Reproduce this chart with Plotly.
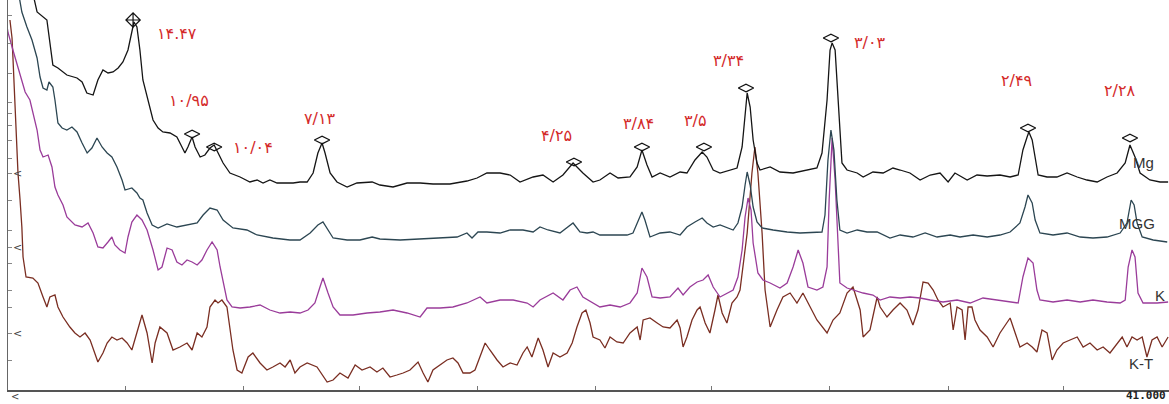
import plotly.graph_objects as go

# ---- Data (2-theta in degrees, intensity in arbitrary units, traces offset) ----
mg_2theta = [2.58, 2.82, 3.15, 3.35, 3.52, 3.82, 4.16, 4.33, 4.49, 4.70, 4.86, 5.03, 5.20, 5.37, 5.54, 5.70, 5.87, 6.00, 6.07, 6.17,
             6.27, 6.37, 6.54, 6.71, 6.88, 7.04, 7.28, 7.51, 7.68, 7.78, 7.88, 8.02, 8.12, 8.29, 8.45, 8.62, 8.76, 8.89, 9.06, 9.29,
             9.63, 9.96, 10.20, 10.40, 10.63, 10.87, 11.07, 11.41, 11.64, 11.88, 12.08, 12.24, 12.38, 12.48, 12.65, 12.88, 13.22, 13.55, 14.06, 14.32,
             14.76, 15.23, 15.67, 16.10, 16.67, 17.24, 17.58, 17.91, 18.35, 18.69, 19.02, 19.46, 19.79, 20.13, 20.46, 20.80, 21.13, 21.47, 21.70, 22.04,
             22.31, 22.71, 22.95, 23.11, 23.28, 23.45, 23.72, 24.05, 24.39, 24.62, 24.89, 25.13, 25.29, 25.50, 25.73, 26.07, 26.30, 26.47, 26.57, 26.64,
             26.74, 26.84, 26.97, 27.07, 27.41, 27.74, 28.18, 28.65, 28.98, 29.15, 29.32, 29.42, 29.49, 29.59, 29.69, 29.82, 29.99, 30.33, 30.53, 30.86,
             31.20, 31.53, 31.77, 32.10, 32.44, 32.78, 33.11, 33.38, 33.61, 34.02, 34.35, 34.69, 35.12, 35.46, 35.73, 35.89, 36.03, 36.09, 36.20, 36.30,
             36.40, 36.70, 37.03, 37.37, 37.71, 38.04, 38.38, 38.71, 39.05, 39.32, 39.48, 39.65, 39.82, 40.15, 40.49, 40.76]
mg_counts = [410, 378, 370, 325, 322, 315, 312, 308, 297, 295, 310, 320, 317, 318, 322, 328, 340, 357, 368, 363,
             340, 310, 290, 270, 262, 258, 257, 253, 243, 237, 243, 253, 243, 233, 235, 242, 245, 237, 227, 217,
             213, 208, 210, 207, 210, 207, 207, 207, 208, 208, 217, 237, 247, 237, 217, 208, 203, 207, 208, 205,
             203, 207, 207, 206, 206, 209, 212, 217, 217, 215, 208, 213, 215, 208, 215, 227, 217, 208, 210, 217,
             212, 213, 223, 240, 225, 213, 217, 213, 218, 217, 230, 238, 233, 220, 217, 220, 222, 243, 280, 297,
             283, 250, 227, 220, 223, 218, 217, 220, 222, 237, 290, 340, 347, 340, 290, 227, 220, 217, 213, 218,
             217, 222, 220, 217, 210, 215, 217, 208, 217, 210, 215, 214, 215, 213, 215, 240, 253, 258, 250, 233,
             215, 213, 213, 217, 213, 210, 208, 213, 217, 227, 245, 233, 217, 210, 208, 208]

mgg_2theta = [2.18, 2.31, 2.48, 2.65, 2.82, 2.92, 3.02, 3.15, 3.22, 3.35, 3.42, 3.52, 3.66, 3.82, 3.99, 4.16, 4.33, 4.50, 4.66, 4.83,
              5.00, 5.17, 5.33, 5.50, 5.67, 5.77, 6.00, 6.17, 6.27, 6.37, 6.51, 6.68, 6.88, 7.18, 7.51, 7.85, 8.19, 8.39, 8.62, 8.86,
              9.06, 9.39, 9.86, 10.20, 10.73, 11.30, 11.64, 11.98, 12.24, 12.41, 12.58, 12.75, 13.22, 13.65, 14.06, 14.32, 15.00, 15.67, 16.34, 16.91,
              17.24, 17.41, 17.61, 17.91, 18.35, 18.69, 19.12, 19.46, 19.69, 19.96, 20.36, 20.60, 20.80, 21.03, 21.27, 21.47, 21.70, 22.14, 22.61, 22.81,
              22.98, 23.11, 23.21, 23.38, 23.72, 24.05, 24.39, 24.62, 24.89, 25.13, 25.29, 25.50, 25.73, 25.96, 26.17, 26.33, 26.47, 26.57, 26.64, 26.74,
              26.84, 26.97, 27.14, 27.51, 27.98, 28.41, 28.85, 29.15, 29.25, 29.35, 29.45, 29.55, 29.65, 29.75, 29.99, 30.33, 30.66, 31.00, 31.43, 31.77,
              32.20, 32.61, 33.01, 33.45, 33.78, 34.22, 34.69, 35.12, 35.46, 35.79, 35.96, 36.06, 36.20, 36.30, 36.46, 36.90, 37.37, 37.81, 38.24, 38.71,
              39.15, 39.38, 39.52, 39.62, 39.72, 39.89, 40.26, 40.73]
mgg_counts = [400, 378, 363, 350, 332, 313, 302, 300, 308, 303, 290, 267, 262, 260, 263, 258, 247, 237, 242, 252,
              243, 237, 233, 223, 210, 200, 202, 197, 192, 190, 177, 165, 162, 166, 163, 165, 167, 175, 182, 180,
              170, 162, 160, 155, 152, 150, 150, 157, 165, 168, 160, 152, 150, 150, 153, 151, 150, 151, 152, 153,
              157, 152, 158, 158, 157, 160, 160, 158, 163, 160, 157, 162, 167, 158, 157, 158, 155, 155, 155, 157,
              170, 178, 170, 153, 157, 158, 155, 163, 168, 172, 167, 163, 165, 162, 160, 167, 183, 205, 218, 205,
              183, 168, 162, 160, 158, 157, 158, 158, 175, 230, 260, 240, 190, 160, 157, 160, 158, 158, 152, 155,
              153, 157, 153, 155, 153, 155, 153, 155, 158, 167, 183, 195, 187, 170, 157, 155, 157, 153, 152, 153,
              157, 167, 190, 185, 167, 153, 150, 148]

k_2theta = [1.71, 1.85, 2.01, 2.18, 2.31, 2.42, 2.58, 2.68, 2.82, 2.92, 3.02, 3.19, 3.32, 3.42, 3.52, 3.69, 3.82, 4.09, 4.33, 4.53,
            4.70, 4.86, 5.03, 5.20, 5.33, 5.43, 5.60, 5.77, 5.87, 6.00, 6.17, 6.34, 6.51, 6.71, 6.88, 7.01, 7.18, 7.35, 7.51, 7.68,
            7.85, 8.02, 8.19, 8.35, 8.52, 8.69, 8.86, 8.96, 9.06, 9.19, 9.36, 9.63, 9.96, 10.30, 10.63, 10.97, 11.31, 11.64, 11.91, 12.14,
            12.31, 12.41, 12.58, 12.75, 12.98, 13.42, 13.89, 14.32, 14.76, 15.23, 15.67, 15.90, 16.34, 16.77, 17.24, 17.44, 17.68, 17.91, 18.35, 18.79,
            19.26, 19.46, 19.69, 20.13, 20.46, 20.70, 20.93, 21.13, 21.47, 21.70, 22.04, 22.38, 22.71, 22.95, 23.11, 23.28, 23.45, 23.72, 24.05, 24.32,
            24.49, 24.72, 24.96, 25.16, 25.33, 25.50, 25.73, 25.96, 26.17, 26.33, 26.47, 26.57, 26.67, 26.77, 26.84, 27.00, 27.17, 27.41, 27.74, 27.98,
            28.18, 28.35, 28.51, 28.68, 28.98, 29.18, 29.32, 29.39, 29.49, 29.59, 29.69, 29.75, 29.99, 30.19, 30.53, 30.86, 31.10, 31.43, 31.77, 32.10,
            32.44, 32.78, 33.21, 33.68, 34.12, 34.55, 35.02, 35.46, 35.73, 35.89, 36.06, 36.23, 36.36, 36.46, 36.90, 37.37, 37.81, 38.24, 38.71, 39.15,
            39.32, 39.42, 39.55, 39.65, 39.75, 39.92, 40.39, 40.76]
k_counts = [380, 357, 340, 323, 310, 298, 290, 277, 260, 240, 233, 235, 223, 203, 195, 185, 173, 165, 163, 167,
            157, 143, 142, 148, 153, 145, 140, 137, 153, 168, 175, 170, 160, 140, 120, 123, 142, 140, 128, 125,
            130, 128, 125, 130, 140, 148, 140, 123, 107, 90, 83, 82, 83, 85, 80, 77, 78, 77, 80, 87,
            103, 112, 97, 83, 75, 75, 77, 78, 80, 77, 73, 82, 82, 83, 87, 90, 93, 87, 90, 90,
            87, 83, 90, 97, 90, 100, 103, 93, 87, 83, 85, 83, 87, 97, 122, 113, 93, 92, 93, 102,
            95, 103, 108, 110, 115, 103, 93, 97, 100, 113, 140, 173, 192, 180, 147, 117, 110, 107, 102, 107,
            123, 140, 127, 103, 100, 103, 123, 190, 252, 210, 140, 107, 102, 100, 97, 95, 90, 93, 92, 93,
            92, 90, 88, 90, 87, 92, 90, 88, 87, 113, 132, 127, 100, 90, 88, 90, 88, 90, 88, 87,
            90, 123, 140, 133, 97, 87, 87, 88]

kt_2theta = [1.91, 1.98, 2.01, 2.08, 2.15, 2.18, 2.25, 2.31, 2.35, 2.45, 2.68, 2.85, 3.02, 3.15, 3.25, 3.42, 3.52, 3.69, 3.92, 4.09,
             4.26, 4.43, 4.60, 4.76, 4.86, 5.03, 5.17, 5.33, 5.50, 5.67, 5.84, 6.00, 6.17, 6.34, 6.51, 6.68, 6.78, 6.94, 7.18, 7.38,
             7.61, 7.85, 8.02, 8.19, 8.35, 8.52, 8.62, 8.79, 8.89, 9.02, 9.19, 9.29, 9.39, 9.53, 9.69, 9.90, 10.06, 10.30, 10.53, 10.73,
             10.97, 11.14, 11.31, 11.47, 11.64, 11.88, 12.21, 12.55, 12.75, 12.98, 13.25, 13.49, 13.72, 13.99, 14.22, 14.42, 14.66, 14.89, 15.10, 15.33,
             15.60, 15.77, 15.93, 16.10, 16.34, 16.57, 16.77, 16.94, 17.11, 17.34, 17.51, 17.68, 17.85, 18.01, 18.25, 18.45, 18.69, 18.92, 19.12, 19.26,
             19.42, 19.63, 19.79, 19.96, 20.13, 20.36, 20.60, 20.77, 20.93, 21.10, 21.23, 21.37, 21.47, 21.70, 21.87, 22.04, 22.27, 22.48, 22.71, 22.95,
             23.05, 23.15, 23.38, 23.62, 23.82, 24.05, 24.29, 24.39, 24.49, 24.62, 24.79, 24.96, 25.06, 25.23, 25.39, 25.56, 25.66, 25.80, 25.96, 26.13,
             26.30, 26.40, 26.53, 26.64, 26.80, 26.90, 27.00, 27.14, 27.24, 27.41, 27.64, 27.84, 28.08, 28.31, 28.51, 28.75, 28.98, 29.32, 29.52, 29.75,
             29.99, 30.19, 30.43, 30.53, 30.76, 31.00, 31.10, 31.33, 31.53, 31.77, 32.00, 32.20, 32.37, 32.54, 32.71, 32.88, 33.04, 33.21, 33.45, 33.55,
             33.68, 33.85, 33.95, 34.05, 34.18, 34.28, 34.45, 34.69, 34.89, 35.12, 35.36, 35.46, 35.63, 35.79, 36.03, 36.20, 36.36, 36.53, 36.70, 36.87,
             37.03, 37.24, 37.47, 37.71, 37.91, 38.14, 38.38, 38.58, 38.81, 39.05, 39.22, 39.38, 39.55, 39.72, 39.89, 40.05, 40.22, 40.39, 40.56, 40.76]
kt_counts = [370, 352, 333, 290, 243, 217, 190, 163, 133, 113, 112, 107, 93, 83, 93, 95, 83, 73, 63, 57,
             53, 57, 50, 37, 28, 37, 47, 53, 50, 52, 47, 40, 58, 75, 57, 27, 47, 63, 57, 40,
             43, 47, 40, 57, 53, 63, 83, 90, 87, 90, 83, 63, 40, 20, 17, 33, 37, 27, 20, 23,
             27, 23, 30, 17, 23, 27, 23, 8, 10, 17, 12, 25, 20, 23, 18, 22, 13, 15, 17, 20,
             28, 17, 8, 20, 25, 30, 32, 27, 17, 17, 20, 33, 47, 40, 30, 23, 27, 25, 37, 43,
             33, 52, 40, 23, 37, 33, 37, 47, 63, 77, 80, 67, 53, 50, 42, 53, 48, 47, 57, 63,
             50, 70, 72, 67, 63, 62, 70, 62, 43, 53, 70, 80, 83, 67, 57, 80, 95, 77, 67, 87,
             93, 100, 130, 157, 217, 243, 217, 157, 100, 63, 80, 93, 97, 87, 97, 83, 70, 57, 70, 77,
             97, 103, 80, 53, 60, 93, 83, 73, 80, 87, 80, 65, 80, 108, 107, 100, 90, 83, 87, 60,
             83, 80, 50, 83, 83, 70, 60, 53, 43, 57, 67, 72, 57, 43, 47, 43, 38, 60, 57, 30,
             40, 47, 50, 53, 43, 47, 40, 43, 37, 47, 53, 43, 53, 50, 53, 33, 50, 53, 43, 53]

# Marked peaks on the Mg trace (diamond positions) and their d-spacing labels
peak_2theta = [6.04, 8.02, 8.76, 12.38, 20.83, 23.11, 25.19, 26.60, 29.45, 36.06, 39.48]
peak_counts = [370, 256, 243, 250, 228, 243, 243, 302, 352, 262, 252]

label_text = ["۱۴.۴۷", "۱۰/۹۵", "۱۰/۰۴", "۷/۱۳", "۴/۲۵", "۳/۸۴", "۳/۵", "۳/۳۴", "۳/۰۳", "۲/۴۹", "۲/۲۸"]
label_2theta = [7.51, 7.92, 10.06, 12.31, 20.26, 22.98, 24.89, 26.03, 30.76, 35.69, 39.15]
label_counts = [357, 290, 243, 272, 255, 267, 270, 330, 348, 310, 300]

sample_names = ["Mg", "MGG", "K", "K-T"]
sample_2theta = [39.92, 39.72, 40.49, 39.85]
sample_counts = [228, 167, 95, 27]

x_ticks = [5.77, 9.73, 13.65, 17.58, 21.54, 25.46, 29.39, 33.38, 37.24]
x_end_label = "41.000"
y_ticks = [375, 347, 317, 288, 277, 265, 250, 232, 217, 190, 160, 143, 127, 100, 83, 57, 30]
arrow_counts = [217, 143, 57]

colors = {"Mg": "#151515", "MGG": "#2c4652", "K": "#9a3c9a", "K-T": "#7a2e22"}

fig = go.Figure()
for name, xs, ys in [("K-T", kt_2theta, kt_counts), ("K", k_2theta, k_counts),
                     ("MGG", mgg_2theta, mgg_counts), ("Mg", mg_2theta, mg_counts)]:
    fig.add_trace(go.Scatter(x=xs, y=ys, mode="lines", name=name,
                             line=dict(color=colors[name], width=1.3), showlegend=False))

symbols = ["diamond-cross-open"] + ["diamond-wide-open"] * (len(peak_2theta) - 1)
fig.add_trace(go.Scatter(x=peak_2theta, y=peak_counts, mode="markers", showlegend=False,
                         marker=dict(symbol=symbols, size=11, color="#111111", line=dict(width=1.2, color="#111111"))))

for t, x, y in zip(label_text, label_2theta, label_counts):
    fig.add_annotation(x=x, y=y, text=t, showarrow=False,
                       font=dict(family="DejaVu Sans", size=16, color="#d42a2a"))

for t, x, y in zip(sample_names, sample_2theta, sample_counts):
    fig.add_annotation(x=x, y=y, text=t, showarrow=False,
                       font=dict(family="Liberation Sans, Arial", size=15, color="#333333"))

for y in arrow_counts:
    fig.add_annotation(x=1.93, y=y, text="<", showarrow=False, xanchor="left",
                       font=dict(family="DejaVu Sans", size=11, color="#444444"))
# marks below the x axis (outside the data range, so placed in paper coordinates)
fig.add_annotation(xref="paper", yref="paper", x=0.001, y=-0.0359, text="<", showarrow=False,
                   xanchor="left", yanchor="bottom", font=dict(family="DejaVu Sans", size=10, color="#444444"))
fig.add_annotation(xref="paper", yref="paper", x=0.999, y=-0.0359, text="<b>" + x_end_label + "</b>",
                   showarrow=False, xanchor="right", yanchor="bottom",
                   font=dict(family="DejaVu Sans Mono", size=11, color="#222222"))

fig.update_layout(
    width=1169, height=404,
    margin=dict(l=8, r=0, t=0, b=14),
    paper_bgcolor="white", plot_bgcolor="white",
    xaxis=dict(range=[1.845, 40.79], showgrid=False, zeroline=False, showline=True,
               linecolor="#555555", linewidth=1.5, ticks="inside", ticklen=4,
               tickcolor="#777777", tickvals=x_ticks, showticklabels=False),
    yaxis=dict(range=[0, 390], showgrid=False, zeroline=False, showline=True,
               linecolor="#666666", linewidth=1, ticks="inside", ticklen=4,
               tickcolor="#888888", tickvals=y_ticks, showticklabels=False),
)

fig.write_html("out.html", config={"displayModeBar": False})

# remove the browser's default page margin so the figure fills the window exactly
with open("out.html", encoding="utf-8") as f:
    html = f.read()
html = html.replace("<head>", "<head><style>html,body{margin:0;padding:0;overflow:hidden;}</style>", 1)
with open("out.html", "w", encoding="utf-8") as f:
    f.write(html)
